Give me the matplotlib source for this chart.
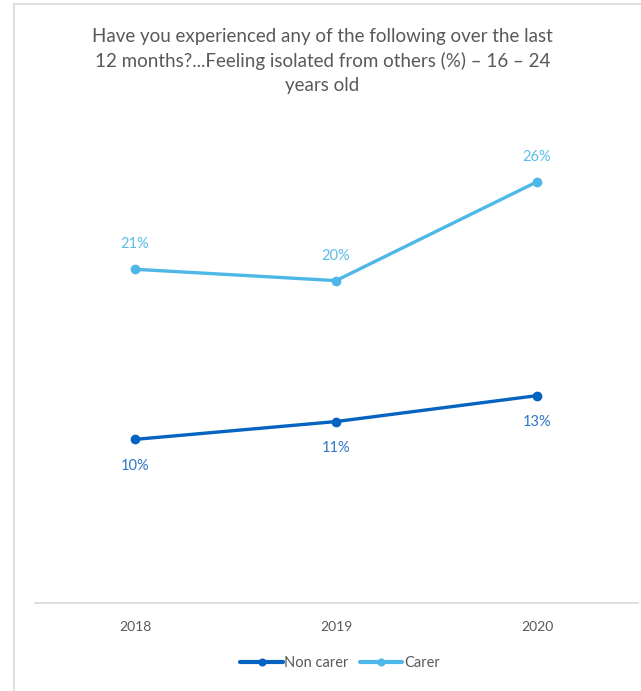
import matplotlib
matplotlib.use("Agg")
import matplotlib.pyplot as plt
from matplotlib.patches import Rectangle

years = ["2018", "2019", "2020"]
non_carer = [10.1, 11.2, 12.8]
carer = [20.6, 19.9, 26.0]
series_names = ["Non carer", "Carer"]
title = ("Have you experienced any of the following over the last\n"
         "12 months?...Feeling isolated from others (%) \u2013 16 \u2013 24\n"
         "years old")

W, H = 641, 691
fig = plt.figure(figsize=(W / 100, H / 100), dpi=100)
plt.rcParams['font.family'] = ['Lato', 'DejaVu Sans']

# chart border
fig.patches.append(Rectangle((14 / W, -0.05), 1.2, (H - 4) / H + 0.05,
                             transform=fig.transFigure, fill=False,
                             edgecolor="#d9d9d9", linewidth=1.2))

left = 34.5 / W
right = 637.5 / W
bottom = (H - 603) / H
top = (H - 117) / H
ax = fig.add_axes([left, bottom, right - left, top - bottom])
ax.set_xlim(-0.5, 2.5)
ax.set_ylim(0, 30)

x = list(range(len(years)))
c_non = "#0563C1"
c_car = "#4DB8E8"
ax.plot(x, non_carer, color=c_non, lw=2.4, marker="o", markersize=6,
        label=series_names[0], solid_capstyle="round")
ax.plot(x, carer, color=c_car, lw=2.4, marker="o", markersize=6,
        label=series_names[1], solid_capstyle="round")

for xi, v in zip(x, non_carer):
    ax.annotate(f"{v:.0f}%", (xi, v), xytext=(0, -19), textcoords="offset points",
                ha="center", va="center", color="#2E75C6", fontsize=10.5)
for xi, v in zip(x, carer):
    ax.annotate(f"{v:.0f}%", (xi, v), xytext=(0, 18), textcoords="offset points",
                ha="center", va="center", color="#5BBCE8", fontsize=10.5)

for s in ["top", "right", "left"]:
    ax.spines[s].set_visible(False)
ax.spines["bottom"].set_color("#d9d9d9")
ax.spines["bottom"].set_linewidth(1.2)
ax.set_yticks([])
ax.set_xticks(x)
ax.set_xticklabels(years, color="#595959", fontsize=10)
ax.tick_params(axis="x", length=0, pad=13)

fig.text(322.5 / W, (H - 61) / H, title, ha="center", va="center",
         fontsize=13.5, color="#595959", linespacing=1.5)

leg = fig.legend(loc="center", bbox_to_anchor=(340 / W, (H - 663) / H), ncol=2,
                 frameon=False, fontsize=10.5, handlelength=2.9, handletextpad=0.1,
                 columnspacing=0.8, labelcolor="#595959", markerscale=0.8)
for h in leg.legend_handles:
    h.set_linewidth(3)
fig.savefig("out.png", dpi=100)
